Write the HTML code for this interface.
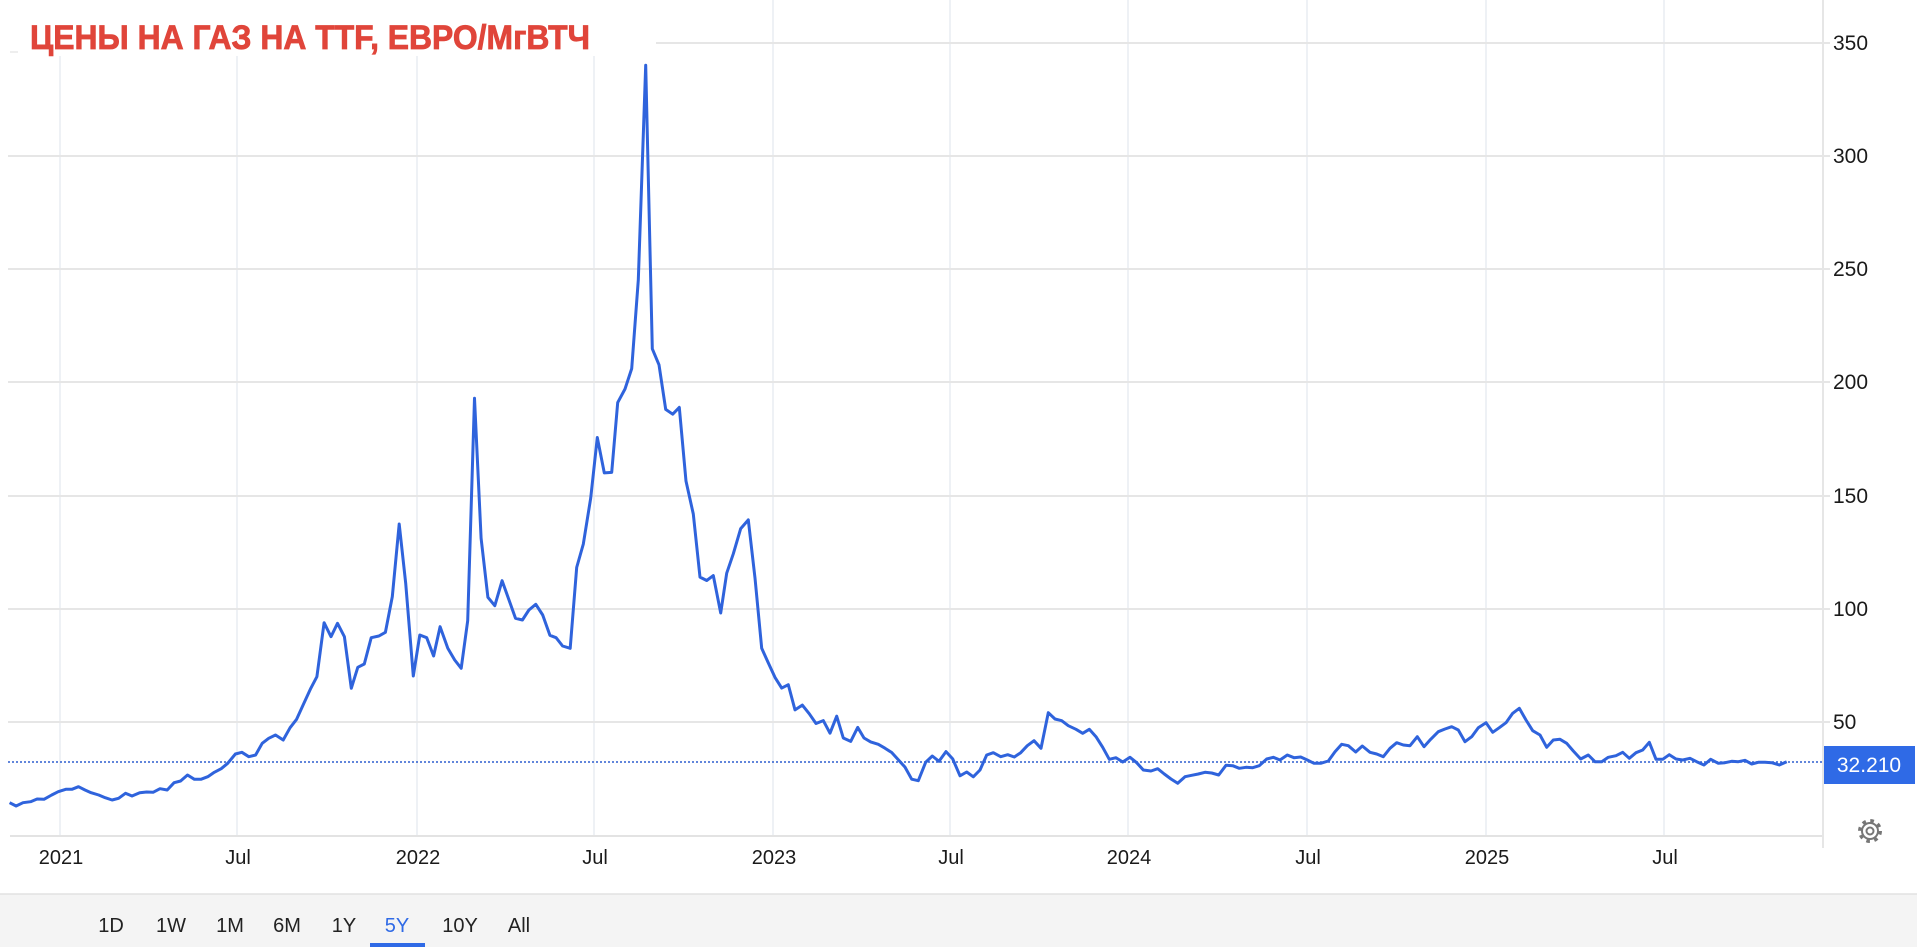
<!DOCTYPE html>
<html><head><meta charset="utf-8"><style>
html,body{margin:0;padding:0;background:#fff;width:1917px;height:947px;overflow:hidden}
svg{display:block}
text{font-family:"Liberation Sans",Arial,sans-serif}
</style></head><body>
<svg width="1917" height="947" viewBox="0 0 1917 947" xmlns="http://www.w3.org/2000/svg">
<rect x="0" y="0" width="1917" height="947" fill="#fff"/>
<g stroke="#eef1f5" stroke-width="2">
<line x1="60" y1="0" x2="60" y2="836"/><line x1="237" y1="0" x2="237" y2="836"/>
<line x1="417" y1="0" x2="417" y2="836"/><line x1="594" y1="0" x2="594" y2="836"/>
<line x1="773" y1="0" x2="773" y2="836"/><line x1="950" y1="0" x2="950" y2="836"/>
<line x1="1128" y1="0" x2="1128" y2="836"/><line x1="1307" y1="0" x2="1307" y2="836"/>
<line x1="1486" y1="0" x2="1486" y2="836"/><line x1="1664" y1="0" x2="1664" y2="836"/>
</g>
<g stroke="#e6e6e6" stroke-width="2">
<line x1="8" y1="43" x2="1830" y2="43"/><line x1="8" y1="156" x2="1830" y2="156"/>
<line x1="8" y1="269" x2="1830" y2="269"/><line x1="8" y1="382" x2="1830" y2="382"/>
<line x1="8" y1="496" x2="1830" y2="496"/><line x1="8" y1="609" x2="1830" y2="609"/>
<line x1="8" y1="722" x2="1830" y2="722"/>
</g>
<line x1="10" y1="836" x2="1822" y2="836" stroke="#e3e3e3" stroke-width="2"/>
<line x1="1823" y1="0" x2="1823" y2="848" stroke="#e6e6e6" stroke-width="2"/>
<rect x="0" y="0" width="656" height="56" fill="#fff"/>
<line x1="10" y1="52" x2="18" y2="52" stroke="#ddd" stroke-width="1"/>
<text x="30" y="49" font-size="34" font-weight="bold" fill="#e0453a" stroke="#e0453a" stroke-width="0.8" textLength="560" lengthAdjust="spacingAndGlyphs">ЦЕНЫ НА ГАЗ НА TTF, ЕВРО/МгВТЧ</text>
<line x1="8" y1="762" x2="1823" y2="762" stroke="#2f5fcf" stroke-width="1.5" stroke-dasharray="2,2"/>
<polyline fill="none" stroke="#2f63dc" stroke-width="3" stroke-linejoin="round" points="
9.6,802.7 16.1,806 23,802.7 30.6,801.7 37.1,799 44,799.3 51.7,795 58.2,791.7 65.8,789.3 71.9,789.3 78.5,786.7 85,790 91.1,792.7 98.7,795 105.2,797.7 112.1,800 118.6,798.3 125.5,793.3 132,796 139.7,792.7 146.6,792 153.1,792.3 160,788.7 167.2,790 174.1,782.7 180.6,781 187.5,775 194.4,779.3 200.9,779.3 207.8,776.7 214.3,772.3 221.2,768.7 227.7,763.3 235.4,754 241.9,752.3 248.8,756.7 255.6,755 262.2,743.3 268.7,738.3 275.5,735 283.2,740 290.1,727.7 296.6,719.3 303.1,705 310.8,688.3 316.9,676.7 324.1,622.7 331,636.7 337.5,623.3 344.4,636.7 351.3,688.3 357.8,667.3 364.3,664 371.2,637.7 378.9,636 385.4,632.3 392.3,596.7 399.2,524 405.7,583.3 413.3,676 419.8,635 426.7,637.7 433.6,656 440.1,626.7 447.8,648.3 454.7,660 461.2,668.3 467.7,620.7 474.5,398.3 481.1,538.3 487.9,597.3 494.8,605.7 502.1,580.7 509,600 515.5,618.3 522.4,620 528.9,610 535.8,604.3 542.7,615 549.9,635.3 556.1,637.7 562.6,646 570.2,648.3 576.7,567.4 583.3,544.1 590.7,498.1 597.3,437.5 604.3,472.9 611.7,472.4 617.7,402.6 625,389 631.7,368.6 638.3,280 645.7,65.2 652.3,348.8 659,364.8 665.7,409.4 672.7,414.2 679.3,407.4 686,481.1 693.3,514 700,577.1 706.7,580.5 713.3,575.6 720.7,613 726.7,573.2 733.3,553.8 740.7,528.6 748.3,519.9 755,578 761.7,648.3 768.3,662.9 775,677.4 781.7,688.1 788.3,684.7 795,709.9 802.3,705.1 809.3,713.8 816,723.5 823.3,720.6 830,733.2 836.7,716.2 843.3,738 850.7,741.4 857.7,727.4 864,738 870.7,741.9 878.3,744.3 885,748.2 891.7,752.5 898.3,759.8 905,767.1 911.7,779.2 918.3,780.7 925.7,762.2 932.3,756 939,761.3 946,751.6 952.7,758.9 960,775.8 966.7,772 973.3,776.8 980,770 986.7,755 993.3,752.7 1000.7,756.7 1007.7,754.7 1014.3,757 1020.7,752.7 1027.3,745.7 1034,740.7 1041,748.3 1048.3,712.7 1055,719 1061.7,720.7 1068.3,725.7 1076,729.3 1082.7,733.3 1089.3,729.3 1096,736.7 1102.7,747.3 1109.3,759.3 1116,757.7 1122.7,762 1130,757.3 1136.7,762.7 1143.3,770 1151,771 1157.7,768.7 1164.3,774 1171,779 1177.7,783.3 1185,776.7 1191.7,775.3 1198.3,774 1205,772.3 1211.7,773 1218.7,775 1226,765.3 1232.7,765.7 1239.3,768.3 1246,767.3 1252.7,767.7 1259.3,765.7 1266.7,759 1273.3,757.3 1280,760 1287.3,755 1294,757.7 1300.7,757 1307.3,760 1314,763.3 1320.7,763.3 1328.3,761 1335,751.7 1341.7,744.3 1348.3,745.7 1355.7,752 1362.3,746 1370,752.3 1376.7,754 1383.3,756.7 1390,748.3 1396.7,742.7 1403.3,745 1410,745.7 1417.3,736.7 1424,746.7 1430.7,739.3 1438.3,731.7 1445,729 1451.7,726.7 1458.3,730 1465,741.7 1471.7,736.7 1478.3,727.7 1486,722.7 1492.7,732.3 1499.3,727.7 1506,722.7 1512.7,713.3 1519.3,708.3 1526,720 1532.7,730.7 1540,735 1546.7,747.3 1553.3,740 1560,739.3 1566.7,743.3 1573.3,751 1580.7,759 1588.3,755 1595,761.7 1601.7,761.7 1608.3,757.3 1616,755.7 1622.7,752.3 1629.3,758.3 1636,752.7 1642.7,750 1649.3,742.3 1656,759.3 1662.7,759.3 1669.3,754.7 1676,759 1682.7,760 1690,758.3 1696.7,761.7 1704,765 1710.7,759.3 1718.3,763.3 1725,762.7 1731.7,761.3 1738.3,761.7 1745,760.3 1751.7,764 1758.3,762.3 1765,762.3 1771.7,762.7 1779.3,765 1786.7,761.7"/>
<g font-size="21" fill="#1a1a1a">
<text x="1833" y="50">350</text><text x="1833" y="163">300</text>
<text x="1833" y="276">250</text><text x="1833" y="389">200</text>
<text x="1833" y="503">150</text><text x="1833" y="616">100</text>
<text x="1833" y="729">50</text>
</g>
<rect x="1824" y="746" width="91" height="38" fill="#2f6ae6"/>
<text x="1869" y="772" font-size="21" fill="#fff" text-anchor="middle">32.210</text>
<g transform="translate(1870,831)" fill="none" stroke="#777">
<circle r="10" stroke-width="4" stroke-dasharray="3.5,4.35"/>
<circle r="8" stroke-width="2"/>
<circle r="3.5" stroke-width="2"/>
</g>
<g font-size="20" fill="#1a1a1a" text-anchor="middle">
<text x="61" y="864">2021</text><text x="238" y="864">Jul</text>
<text x="418" y="864">2022</text><text x="595" y="864">Jul</text>
<text x="774" y="864">2023</text><text x="951" y="864">Jul</text>
<text x="1129" y="864">2024</text><text x="1308" y="864">Jul</text>
<text x="1487" y="864">2025</text><text x="1665" y="864">Jul</text>
</g>
<rect x="0" y="894" width="1917" height="53" fill="#f4f4f4"/>
<line x1="0" y1="894" x2="1917" y2="894" stroke="#e2e2e2" stroke-width="1.5"/>
<g font-size="20" fill="#222" text-anchor="middle">
<text x="111" y="932">1D</text><text x="171" y="932">1W</text>
<text x="230" y="932">1M</text><text x="287" y="932">6M</text>
<text x="344" y="932">1Y</text><text x="397" y="932" fill="#2f6ae6">5Y</text>
<text x="460" y="932">10Y</text><text x="519" y="932">All</text>
</g>
<rect x="370" y="943" width="55" height="4" fill="#2f6ae6"/>
</svg>
</body></html>
